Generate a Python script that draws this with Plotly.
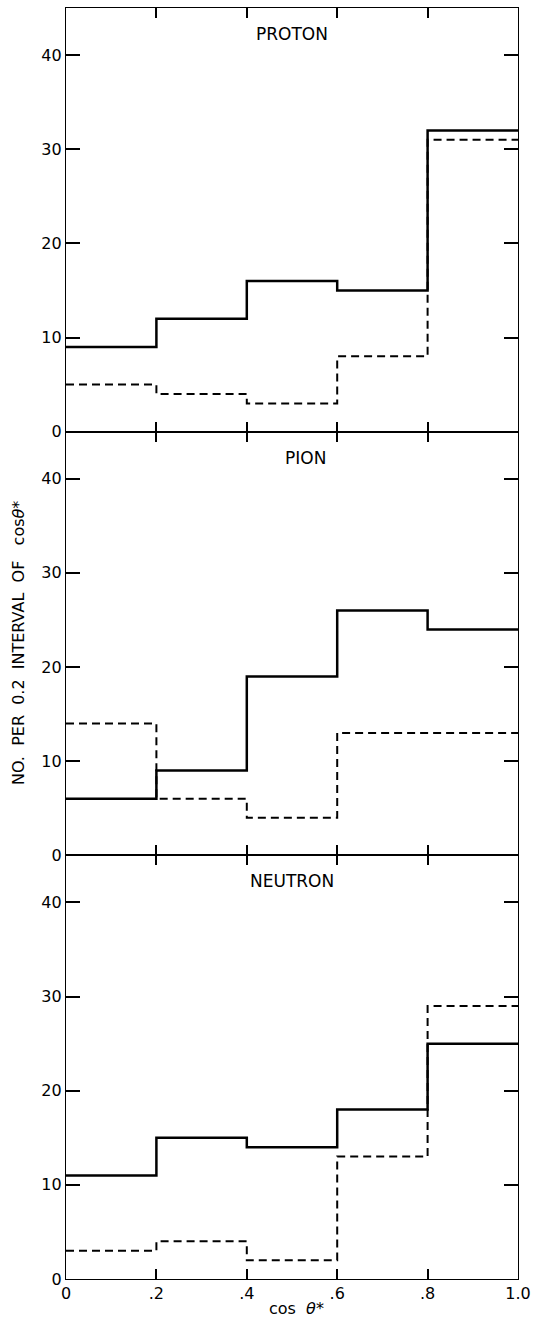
import plotly.graph_objects as go
from plotly.subplots import make_subplots

edges = [0, 0.2, 0.4, 0.6, 0.8, 1.0]
panels = ["PROTON", "PION", "NEUTRON"]
proton_solid = [9, 12, 16, 15, 32]
proton_dashed = [5, 4, 3, 8, 31]
pion_solid = [6, 9, 19, 26, 24]
pion_dashed = [14, 6, 4, 13, 13]
neutron_solid = [11, 15, 14, 18, 25]
neutron_dashed = [3, 4, 2, 13, 29]
x_ticks = [0, 0.2, 0.4, 0.6, 0.8, 1.0]
x_ticklabels = ["0", ".2", ".4", ".6", ".8", "1.0"]
y_ticks = [0, 10, 20, 30, 40]

series = [(proton_solid, proton_dashed), (pion_solid, pion_dashed), (neutron_solid, neutron_dashed)]

FONT = "DejaVu Sans"
fig = make_subplots(rows=3, cols=1, shared_xaxes=True, vertical_spacing=0)

for i, (solid, dashed) in enumerate(series, start=1):
    fig.add_trace(go.Scatter(x=edges, y=solid + [solid[-1]], mode="lines",
                             line=dict(shape="hv", color="black", width=2.5),
                             showlegend=False, hoverinfo="skip"), row=i, col=1)
    fig.add_trace(go.Scatter(x=edges, y=dashed + [dashed[-1]], mode="lines",
                             line=dict(shape="hv", color="black", width=2, dash="8px,5px"),
                             showlegend=False, hoverinfo="skip"), row=i, col=1)
    fig.update_yaxes(range=[0, 45], tickvals=y_ticks, ticktext=[str(v) for v in y_ticks],
                     ticks="inside", ticklen=14, tickwidth=1.5, tickcolor="black",
                     showline=True, linecolor="black", linewidth=1.2, mirror="ticks",
                     showgrid=False, zeroline=False,
                     tickfont=dict(family=FONT, size=16, color="black"), row=i, col=1)
    fig.update_xaxes(range=[0, 1.0], tickvals=x_ticks, ticktext=x_ticklabels,
                     ticks="inside", ticklen=10, tickwidth=1.5, tickcolor="black",
                     showline=True, linecolor="black", linewidth=1.2, mirror="ticks",
                     showgrid=False, zeroline=False, showticklabels=(i == 3),
                     tickfont=dict(family=FONT, size=16, color="black"), row=i, col=1)
    dom = "y domain" if i == 1 else f"y{i} domain"
    fig.add_annotation(text=panels[i - 1], x=0.5 if i != 2 else 0.53, xref="x domain", y=1, yref=dom,
                       yshift=-26, showarrow=False, xanchor="center", yanchor="middle",
                       font=dict(family=FONT, size=17, color="black"))

fig.add_annotation(text="NO.  PER  0.2  INTERVAL  OF   cos<i>θ</i>*", x=-0.105, xref="paper", xanchor="center",
                   y=0.5, yref="paper", showarrow=False, textangle=-90,
                   font=dict(family=FONT, size=16, color="black"))
fig.add_annotation(text="cos  <i>θ</i>*", x=0.51, xref="paper", y=0, yref="paper", yshift=-29,
                   showarrow=False, xanchor="center", yanchor="middle",
                   font=dict(family=FONT, size=16, color="black"))

fig.update_layout(width=546, height=1320, margin=dict(l=66, r=28, t=8, b=41),
                  plot_bgcolor="white", paper_bgcolor="white")

fig.write_html("out.html")
